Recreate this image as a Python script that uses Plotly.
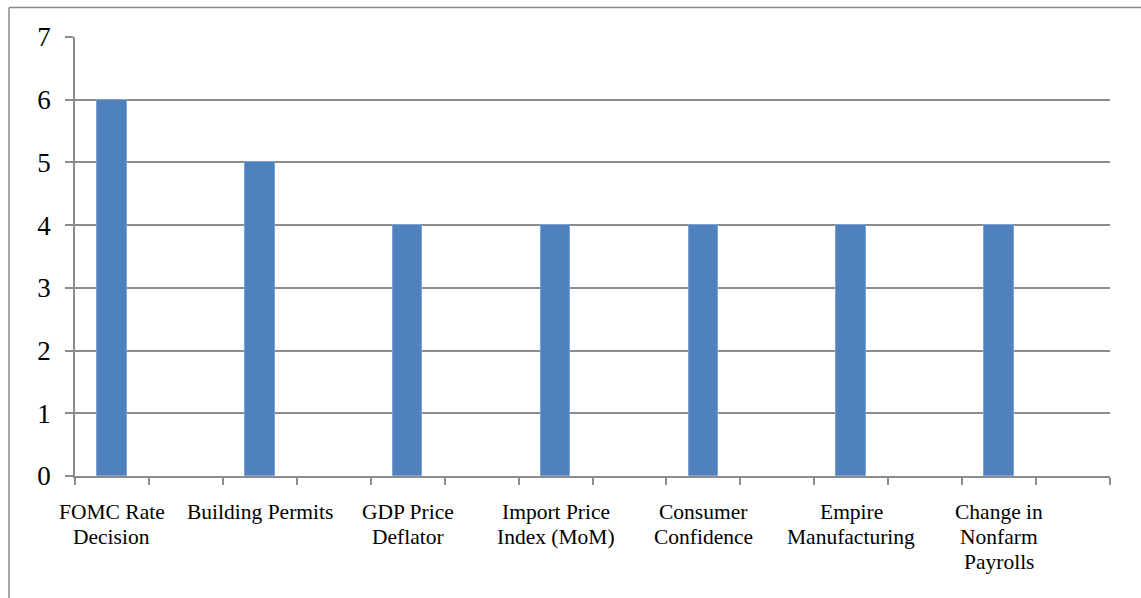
import plotly.graph_objects as go

# Event categories and their counts
categories = [
    "FOMC Rate<br>Decision",
    "Building Permits",
    "GDP Price<br>Deflator",
    "Import Price<br>Index (MoM)",
    "Consumer<br>Confidence",
    "Empire<br>Manufacturing",
    "Change in<br>Nonfarm<br>Payrolls",
]
values = [6, 5, 4, 4, 4, 4, 4]

# Each category occupies every other slot on a 14-slot axis
n_slots = 2 * len(categories)
positions = [2 * i for i in range(len(categories))]
boundaries = [k - 0.5 for k in range(n_slots + 1)]

GRID = "#8c8c8c"
FONT = "Liberation Serif"

fig = go.Figure(
    go.Bar(
        x=positions,
        y=values,
        width=0.4,
        marker=dict(color="#4F81BD", line=dict(color="#7da2d2", width=1)),
        hovertext=[c.replace("<br>", " ") for c in categories],
        hoverinfo="text+y",
    )
)

# Plot-area geometry in pixels
L, R, T, B = 75, 31, 37, 122
W, H = 1141, 598
pw, ph = W - L - R, H - T - B

fig.update_layout(
    width=W,
    height=H,
    margin=dict(l=L, r=R, t=T, b=B, pad=0),
    paper_bgcolor="white",
    plot_bgcolor="white",
    showlegend=False,
    font=dict(family=FONT, color="black"),
    bargap=0,
    xaxis=dict(
        range=[-0.5, n_slots - 0.5],
        tickvals=positions,
        showticklabels=False,
        ticks="",
        showgrid=False,
        showline=True,
        linecolor=GRID,
        linewidth=1.5,
        minor=dict(
            tickvals=boundaries,
            ticks="outside",
            ticklen=7,
            tickcolor=GRID,
            tickwidth=1.5,
            showgrid=False,
        ),
        zeroline=False,
        fixedrange=True,
    ),
    yaxis=dict(
        range=[0, 7],
        dtick=1,
        tick0=0,
        ticks="outside",
        ticklen=8,
        tickcolor=GRID,
        tickwidth=1.5,
        showgrid=True,
        gridcolor=GRID,
        gridwidth=1.5,
        showline=True,
        linecolor=GRID,
        linewidth=1.5,
        zeroline=False,
        tickfont=dict(size=27, family=FONT, color="black"),
        ticklabelstandoff=9,
        fixedrange=True,
    ),
)

# Category labels, one line at a time for tighter line spacing
for pos, label in zip(positions, categories):
    for k, line in enumerate(label.split("<br>")):
        fig.add_annotation(
            x=pos, xref="x", y=0, yref="paper",
            text=line, showarrow=False,
            xanchor="center", yanchor="middle",
            yshift=-36 - 25 * k,
            font=dict(size=21.5, family=FONT, color="black"),
        )

# Outer chart frame (left and top edges visible)
fx0 = (9 - L) / pw
fy1 = 1 + (T - 7.5) / ph
fig.add_shape(type="line", xref="paper", yref="paper",
              x0=fx0, x1=fx0, y0=-(H + 5 - T - ph) / ph, y1=fy1,
              line=dict(color="#8a8a8a", width=1.5))
fig.add_shape(type="line", xref="paper", yref="paper",
              x0=fx0, x1=(W + 5 - L) / pw, y0=fy1, y1=fy1,
              line=dict(color="#8a8a8a", width=1.5))

fig.write_html("out.html")
